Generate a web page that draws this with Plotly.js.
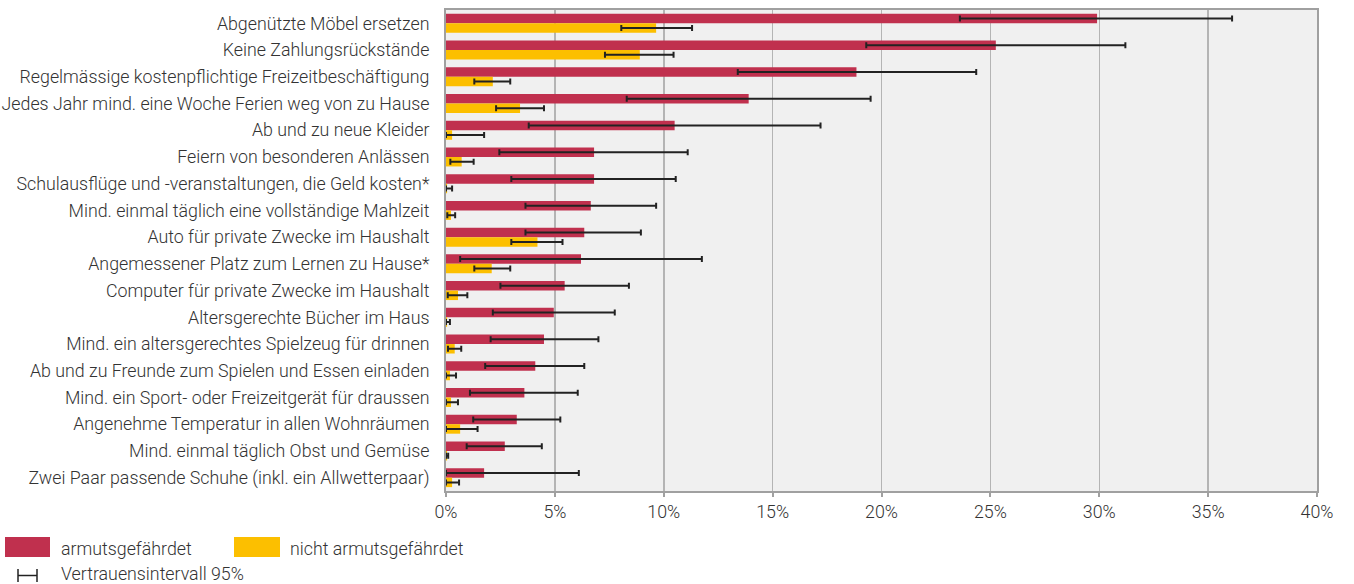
<!DOCTYPE html>
<html>
<head>
<meta charset="utf-8">
<script src="https://cdn.plot.ly/plotly-3.0.1.min.js"></script>
<style>html,body{margin:0;padding:0;background:#fff;}#chart{width:1354px;height:584px;}</style>
</head>
<body>
<div id="chart"></div>
<script>
const categories = [
  "Abgenützte Möbel ersetzen",
  "Keine Zahlungsrückstände",
  "Regelmässige kostenpflichtige Freizeitbeschäftigung",
  "Jedes Jahr mind. eine Woche Ferien weg von zu Hause",
  "Ab und zu neue Kleider",
  "Feiern von besonderen Anlässen",
  "Schulausflüge und -veranstaltungen, die Geld kosten*",
  "Mind. einmal täglich eine vollständige Mahlzeit",
  "Auto für private Zwecke im Haushalt",
  "Angemessener Platz zum Lernen zu Hause*",
  "Computer für private Zwecke im Haushalt",
  "Altersgerechte Bücher im Haus",
  "Mind. ein altersgerechtes Spielzeug für drinnen",
  "Ab und zu Freunde zum Spielen und Essen einladen",
  "Mind. ein Sport- oder Freizeitgerät für draussen",
  "Angenehme Temperatur in allen Wohnräumen",
  "Mind. einmal täglich Obst und Gemüse",
  "Zwei Paar passende Schuhe (inkl. ein Allwetterpaar)"
];
// armutsgefährdet (in %)
const poorValues = [29.9, 25.25, 18.85, 13.9, 10.5, 6.8, 6.8, 6.65, 6.35, 6.2, 5.45, 4.95, 4.5, 4.1, 3.6, 3.25, 2.7, 1.75];
const poorLow    = [23.6, 19.3, 13.4, 8.3, 3.8, 2.45, 3.0, 3.65, 3.65, 0.65, 2.5, 2.15, 2.05, 1.8, 1.1, 1.25, 0.95, 0.0];
const poorHigh   = [36.1, 31.2, 24.35, 19.5, 17.2, 11.1, 10.55, 9.65, 8.95, 11.75, 8.4, 7.75, 7.0, 6.35, 6.05, 5.25, 4.4, 6.1];
// nicht armutsgefährdet (in %)
const richValues = [9.65, 8.9, 2.15, 3.4, 0.28, 0.72, 0.05, 0.23, 4.2, 2.1, 0.55, 0.05, 0.4, 0.18, 0.23, 0.65, 0.05, 0.28];
const richLow    = [8.05, 7.3, 1.3, 2.3, 0.0, 0.2, 0.0, 0.06, 3.0, 1.3, 0.08, 0.0, 0.09, 0.0, 0.0, 0.0, 0.0, 0.0];
const richHigh   = [11.3, 10.45, 2.95, 4.5, 1.75, 1.27, 0.28, 0.42, 5.35, 2.95, 0.98, 0.18, 0.7, 0.46, 0.55, 1.45, 0.1, 0.6];
const xTickVals  = [0, 5, 10, 15, 20, 25, 30, 35, 40];
const xTickText  = ["0%", "5%", "10%", "15%", "20%", "25%", "30%", "35%", "40%"];
const legendNames = ["armutsgefährdet", "nicht armutsgefährdet", "Vertrauensintervall 95%"];

const RED = "#c0304e", YELLOW = "#fcbf00";
const errStyle = {color: "#222222", thickness: 2, width: 3};
function plus(v, hi) { return v.map((x, i) => Math.max(0, hi[i] - x)); }
function minus(v, lo) { return v.map((x, i) => Math.max(0, x - lo[i])); }

const traces = [
  {type: "bar", orientation: "h", name: legendNames[0], y: categories, x: poorValues,
   marker: {color: RED}, hoverinfo: "x+y",
   error_x: Object.assign({type: "data", symmetric: false, array: plus(poorValues, poorHigh), arrayminus: minus(poorValues, poorLow)}, errStyle)},
  {type: "bar", orientation: "h", name: legendNames[1], y: categories, x: richValues,
   marker: {color: YELLOW}, hoverinfo: "x+y",
   error_x: Object.assign({type: "data", symmetric: false, array: plus(richValues, richHigh), arrayminus: minus(richValues, richLow)}, errStyle)}
];

// legend geometry helpers (pixel -> paper)
const L = 446, R = 1317, T = 10, B = 491;
const px = v => (v - L) / (R - L);
const py = v => (B - v) / (B - T);
const font = {family: "Roboto, 'Open Sans', sans-serif", size: 17.8, color: "#333333", weight: 300};

const layout = {
  width: 1354, height: 584,
  margin: {l: L, r: 1354 - R, t: T, b: 584 - B, pad: 0},
  paper_bgcolor: "#ffffff",
  plot_bgcolor: "#f0f0f0",
  barmode: "group", bargap: 0.29, bargroupgap: 0,
  showlegend: false,
  font: font,
  xaxis: {range: [0, 40], tickvals: xTickVals, ticktext: xTickText,
          showgrid: true, gridcolor: "#b4b4b4", gridwidth: 1.5,
          showline: true, linecolor: "#a0a0a0", linewidth: 2, mirror: true,
          ticks: "outside", ticklen: 4, tickcolor: "#a0a0a0", tickwidth: 2,
          zeroline: false, tickfont: font, fixedrange: true},
  yaxis: {autorange: "reversed", type: "category",
          showline: true, linecolor: "#a0a0a0", linewidth: 2, mirror: true,
          ticks: "", ticklabelstandoff: 11, showgrid: false, zeroline: false,
          tickfont: font, fixedrange: true},
  shapes: [
    {type: "rect", xref: "paper", yref: "paper", x0: px(5), x1: px(50), y0: py(557), y1: py(537), fillcolor: RED, line: {width: 0}},
    {type: "rect", xref: "paper", yref: "paper", x0: px(234), x1: px(280), y0: py(557), y1: py(537), fillcolor: YELLOW, line: {width: 0}},
    {type: "line", xref: "paper", yref: "paper", x0: px(18), x1: px(37), y0: py(575.5), y1: py(575.5), line: {color: "#222", width: 1.5}},
    {type: "line", xref: "paper", yref: "paper", x0: px(18), x1: px(18), y0: py(569), y1: py(582), line: {color: "#222", width: 1.5}},
    {type: "line", xref: "paper", yref: "paper", x0: px(37), x1: px(37), y0: py(569), y1: py(582), line: {color: "#222", width: 1.5}}
  ],
  annotations: [
    {xref: "paper", yref: "paper", x: px(59), y: py(548), xanchor: "left", yanchor: "middle", text: legendNames[0], showarrow: false, font: font},
    {xref: "paper", yref: "paper", x: px(288), y: py(548), xanchor: "left", yanchor: "middle", text: legendNames[1], showarrow: false, font: font},
    {xref: "paper", yref: "paper", x: px(59), y: py(573.5), xanchor: "left", yanchor: "middle", text: legendNames[2], showarrow: false, font: font}
  ]
};

Plotly.newPlot("chart", traces, layout, {displayModeBar: false, staticPlot: true});
</script>
</body>
</html>
